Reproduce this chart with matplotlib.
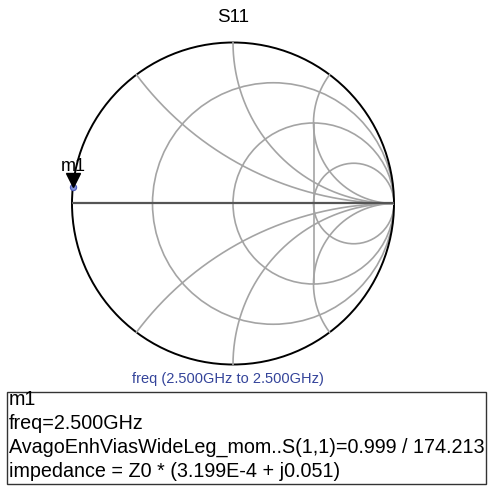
import numpy as np
import matplotlib.pyplot as plt
from matplotlib.patches import Circle, Rectangle
from matplotlib.transforms import offset_copy

plt.rcParams['font.family'] = ['Liberation Sans', 'DejaVu Sans']

W, H = 490, 487

# normalised resistance circles and reactance arcs of the grid
r_values = [1 / 3, 1.0, 3.0]
x_values = [0.5, 1.0, 2.0]

# marker m1
m1_freq = 2.5          # GHz
m1_mag = 0.999
m1_ang = 174.213       # degrees
m1_z = (3.199e-4, 0.051)
trace_name = "AvagoEnhViasWideLeg_mom..S(1,1)"


def gamma(z):
    return (z - 1) / (z + 1)


fig = plt.figure(figsize=(W / 100, H / 100), dpi=100)
ax = fig.add_axes([72 / W, 1 - 364.5 / H, 322 / W, 322 / H])
ax.set_xlim(-1, 1)
ax.set_ylim(-1, 1)
ax.axis('off')

grid_col = '#a4a4a4'
for r in r_values:
    c = r / (1 + r)
    ax.add_patch(Circle((c, 0), 1 / (1 + r), fill=False, ec=grid_col, lw=1.2))

rr = np.concatenate([np.linspace(0, 5, 800), np.geomspace(5, 1e5, 400)])
for x in x_values:
    for s in (1, -1):
        g = gamma(rr + 1j * s * x)
        ax.plot(np.append(g.real, 1), np.append(g.imag, 0), color=grid_col, lw=1.2)

# short segment between the x=+-2 arcs at Re(gamma)=0.5
ax.plot([0.5, 0.5], [-0.5, 0.5], color=grid_col, lw=1.2)

# real axis and outer circle
ax.plot([-1, 1], [0, 0], color='#555555', lw=1.6)
ax.add_patch(Circle((0, 0), 1, fill=False, ec='black', lw=1.4, clip_on=False))

# marker m1
g1 = m1_mag * np.exp(1j * np.deg2rad(m1_ang))
ax.plot(g1.real, g1.imag, 'o', ms=4.5, mfc='#7f8fd8', mec='#4a5ab8', mew=0.8,
        clip_on=False, zorder=5)
tri = offset_copy(ax.transData, fig=fig, x=0, y=5.5, units='points')
ax.plot(g1.real, g1.imag, 'v', ms=10.5, color='black', transform=tri,
        clip_on=False, zorder=6)
ax.annotate('m1', (g1.real, g1.imag), xytext=(0, 11.5), textcoords='offset points',
            ha='center', va='baseline', fontsize=13, annotation_clip=False)

fig.text(233 / W, 1 - 17 / H, 'S11', ha='center', va='center', fontsize=13.5)

fig.text(228 / W, 1 - 379 / H,
         'freq ({0:.3f}GHz to {0:.3f}GHz)'.format(m1_freq),
         ha='center', va='center', fontsize=10.5, color='#34449a')

# marker readout box
fig.add_artist(Rectangle((7 / W, 1 - 484 / H), 479 / W, 92 / H,
                         transform=fig.transFigure, fill=False,
                         ec='#333333', lw=1.0))
lines = [
    'm1',
    'freq={:.3f}GHz'.format(m1_freq),
    '{}={:.3f} / {:.3f}'.format(trace_name, m1_mag, m1_ang),
    'impedance = Z0 * ({:.3E} + j{:.3f})'.format(m1_z[0], m1_z[1]).replace('E-04', 'E-4'),
]
for i, s in enumerate(lines):
    fig.text(9 / W, 1 - (405 + 24 * i) / H, s, ha='left', va='baseline',
             fontsize=14.2)

fig.savefig('out.png', dpi=100)
